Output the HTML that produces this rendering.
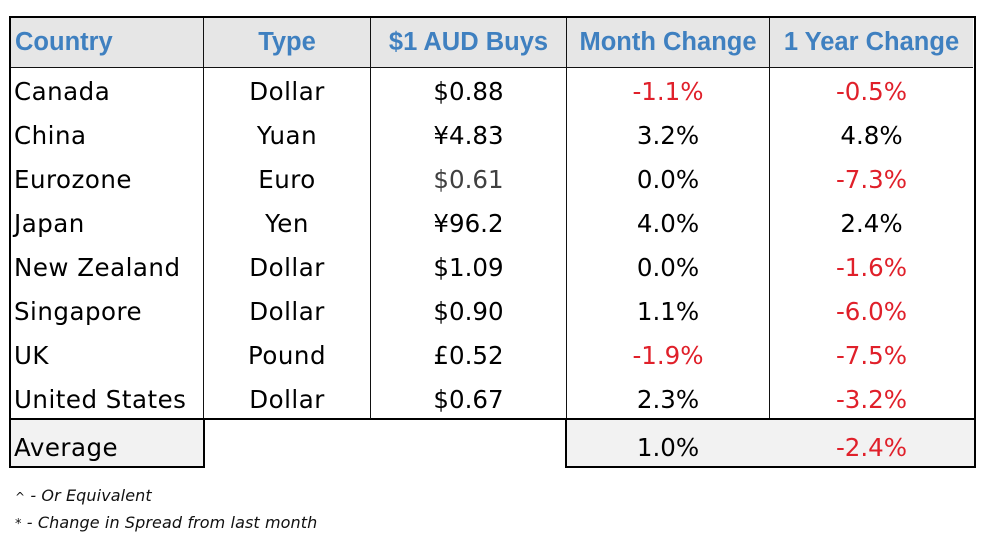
<!DOCTYPE html>
<html><head><meta charset="utf-8">
<style>
html,body{margin:0;padding:0;background:#fff;}
body{width:991px;height:544px;position:relative;overflow:hidden;}
.a{position:absolute;box-sizing:border-box;}
.hdr{position:absolute;top:17px;height:50px;line-height:50px;font-family:"Liberation Sans",sans-serif;font-weight:bold;font-size:25.5px;color:#3f80c0;white-space:nowrap;}
.r{position:absolute;height:44px;line-height:44px;font-family:"DejaVu Sans","Liberation Sans",sans-serif;font-size:24.5px;color:#000;white-space:nowrap;}
.c1{left:14px;width:185px;text-align:left;letter-spacing:0.5px;}
.c2{left:204px;width:166px;text-align:center;letter-spacing:0.5px;}
.c3{left:371px;width:195px;text-align:center;}
.c4{left:567px;width:202px;text-align:center;}
.c5{left:770px;width:203px;text-align:center;}
.red{color:#e0202a;}
.g{color:#404040;}
.fn{position:absolute;left:15px;height:20px;line-height:20px;font-family:"DejaVu Sans",sans-serif;font-style:oblique;font-size:16px;color:#111;white-space:nowrap;letter-spacing:0.1px;}
</style></head><body>
<!-- header bg -->
<div class="a" style="left:11px;top:18px;width:962px;height:49px;background:#e6e6e6;"></div>
<!-- outer border main table -->
<div class="a" style="left:9px;top:16px;width:967px;height:404px;border:2px solid #000;"></div>
<!-- header bottom line -->
<div class="a" style="left:11px;top:66.5px;width:962px;height:1.5px;background:#111;"></div>
<!-- vertical lines -->
<div class="a" style="left:203px;top:18px;width:1px;height:401px;background:#111;"></div>
<div class="a" style="left:370px;top:18px;width:1px;height:401px;background:#111;"></div>
<div class="a" style="left:566px;top:18px;width:1px;height:401px;background:#111;"></div>
<div class="a" style="left:769px;top:18px;width:1px;height:401px;background:#111;"></div>
<!-- average boxes -->
<div class="a" style="left:9px;top:418px;width:196px;height:50px;border:2px solid #000;background:#f2f2f2;"></div>
<div class="a" style="left:565px;top:418px;width:411px;height:50px;border:2px solid #000;background:#f2f2f2;"></div>

<!-- header text -->
<div class="hdr" style="left:15px;">Country</div>
<div class="hdr" style="left:204px;width:166px;text-align:center;">Type</div>
<div class="hdr" style="left:371px;width:195px;text-align:center;">$1 AUD Buys</div>
<div class="hdr" style="left:567px;width:202px;text-align:center;">Month Change</div>
<div class="hdr" style="left:770px;width:203px;text-align:center;">1 Year Change</div>

<!-- rows: top = 70 + 44k -->
<div class="r c1" style="top:70px;">Canada</div>
<div class="r c2" style="top:70px;">Dollar</div>
<div class="r c3" style="top:70px;">$0.88</div>
<div class="r c4 red" style="top:70px;">-1.1%</div>
<div class="r c5 red" style="top:70px;">-0.5%</div>

<div class="r c1" style="top:114px;">China</div>
<div class="r c2" style="top:114px;">Yuan</div>
<div class="r c3" style="top:114px;">¥4.83</div>
<div class="r c4" style="top:114px;">3.2%</div>
<div class="r c5" style="top:114px;">4.8%</div>

<div class="r c1" style="top:158px;">Eurozone</div>
<div class="r c2" style="top:158px;">Euro</div>
<div class="r c3 g" style="top:158px;">$0.61</div>
<div class="r c4" style="top:158px;">0.0%</div>
<div class="r c5 red" style="top:158px;">-7.3%</div>

<div class="r c1" style="top:202px;">Japan</div>
<div class="r c2" style="top:202px;">Yen</div>
<div class="r c3" style="top:202px;">¥96.2</div>
<div class="r c4" style="top:202px;">4.0%</div>
<div class="r c5" style="top:202px;">2.4%</div>

<div class="r c1" style="top:246px;">New Zealand</div>
<div class="r c2" style="top:246px;">Dollar</div>
<div class="r c3" style="top:246px;">$1.09</div>
<div class="r c4" style="top:246px;">0.0%</div>
<div class="r c5 red" style="top:246px;">-1.6%</div>

<div class="r c1" style="top:290px;">Singapore</div>
<div class="r c2" style="top:290px;">Dollar</div>
<div class="r c3" style="top:290px;">$0.90</div>
<div class="r c4" style="top:290px;">1.1%</div>
<div class="r c5 red" style="top:290px;">-6.0%</div>

<div class="r c1" style="top:334px;">UK</div>
<div class="r c2" style="top:334px;">Pound</div>
<div class="r c3" style="top:334px;">£0.52</div>
<div class="r c4 red" style="top:334px;">-1.9%</div>
<div class="r c5 red" style="top:334px;">-7.5%</div>

<div class="r c1" style="top:378px;">United States</div>
<div class="r c2" style="top:378px;">Dollar</div>
<div class="r c3" style="top:378px;">$0.67</div>
<div class="r c4" style="top:378px;">2.3%</div>
<div class="r c5 red" style="top:378px;">-3.2%</div>

<!-- average -->
<div class="r c1" style="top:425.5px;">Average</div>
<div class="r c4" style="top:425.5px;">1.0%</div>
<div class="r c5 red" style="top:425.5px;">-2.4%</div>

<!-- footnotes -->
<div class="fn" style="top:486px;"><span style="font-style:normal;font-size:12px;">^</span> - Or Equivalent</div>
<div class="fn" style="top:513px;"><span style="font-style:normal;font-size:13px;">*</span> - Change in Spread from last month</div>
</body></html>
